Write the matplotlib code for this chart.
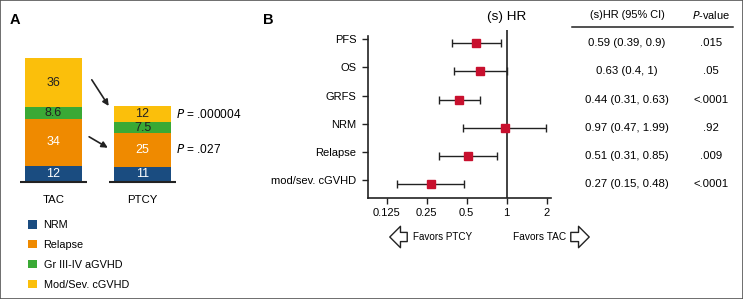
import matplotlib
matplotlib.use("Agg")
import matplotlib.pyplot as plt
import numpy as np
from matplotlib.patches import Patch, Rectangle, FancyArrowPatch
from matplotlib.transforms import blended_transform_factory

plt.rcParams["font.family"] = ["Liberation Sans", "DejaVu Sans"]
plt.rcParams["font.size"] = 7.5

# Panel A: stacked cumulative incidences
groups = ["TAC", "PTCY"]
components = ["NRM", "Relapse", "Gr III-IV aGVHD", "Mod/Sev. cGVHD"]
tac_values = [12, 34, 8.6, 36]
ptcy_values = [11, 25, 7.5, 12]
seg_colors = ["#1a4c80", "#ef8a00", "#3aa935", "#fbbf0b"]
seg_text_colors = ["white", "white", "#222222", "#222222"]
p_labels = [" = .000004", " = .027"]

# Panel B: forest plot
outcomes = ["PFS", "OS", "GRFS", "NRM", "Relapse", "mod/sev. cGVHD"]
hr = [0.59, 0.63, 0.44, 0.97, 0.51, 0.27]
ci_low = [0.39, 0.4, 0.31, 0.47, 0.31, 0.15]
ci_high = [0.9, 1.0, 0.63, 1.99, 0.85, 0.48]
hr_text = ["0.59 (0.39, 0.9)", "0.63 (0.4, 1)", "0.44 (0.31, 0.63)",
           "0.97 (0.47, 1.99)", "0.51 (0.31, 0.85)", "0.27 (0.15, 0.48)"]
p_text = [".015", ".05", "<.0001", ".92", ".009", "<.0001"]
xticks = [0.125, 0.25, 0.5, 1, 2]
xtick_labels = ["0.125", "0.25", "0.5", "1", "2"]

W, H = 743, 299
fig = plt.figure(figsize=(W / 100, H / 100), dpi=100)


def px_axes(x0, y0, x1, y1):
    # pixel box (top-left origin) -> figure axes
    return fig.add_axes([x0 / W, 1 - y1 / H, (x1 - x0) / W, (y1 - y0) / H])


# figure frame
fig.patches.append(Rectangle((0, 0), 1, 1, transform=fig.transFigure,
                             fill=False, ec="#555555", lw=1.2))

# ---------------- Panel A ----------------
axA = px_axes(10, 45, 200, 182)
axA.set_xlim(-0.489, 1.646)
axA.set_ylim(0, 100)
axA.axis("off")
bar_w = 0.64
for xi, vals in enumerate([tac_values, ptcy_values]):
    bottoms = np.concatenate([[0], np.cumsum(vals)[:-1]])
    for v, b, c, tc in zip(vals, bottoms, seg_colors, seg_text_colors):
        axA.bar(xi, v, bottom=b, width=bar_w, color=c, edgecolor="none")
        axA.text(xi, b + v / 2, f"{v:g}", ha="center", va="center",
                 color=tc, fontsize=9)
    axA.hlines(0, xi - 0.38, xi + 0.38, color="#222222", lw=1.5, clip_on=False)
    axA.text(xi, -13, groups[xi], ha="center", va="center", fontsize=8.2,
             clip_on=False)

tac_cum = np.cumsum(tac_values)
ptcy_cum = np.cumsum(ptcy_values)
# arrows between bars
arrow_kw = dict(arrowstyle="-|>", color="#222222", lw=1.2,
                mutation_scale=9, shrinkA=0, shrinkB=0)
axA.annotate("", xy=(0.62, ptcy_cum[-1]),
             xytext=(0.43, tac_cum[2] + tac_values[3] / 2 + 2),
             arrowprops=arrow_kw)
axA.annotate("", xy=(0.61, ptcy_cum[0] + ptcy_values[1] / 2 + 1.5),
             xytext=(0.40, tac_cum[0] + tac_values[1] / 2 + 4),
             arrowprops=arrow_kw)
for lab, yv in zip(p_labels, [ptcy_cum[2] + ptcy_values[3] / 2,
                              ptcy_cum[0] + ptcy_values[1] / 2]):
    axA.text(1.376, yv, "$P$" + lab, ha="left", va="center", fontsize=8.6,
             clip_on=False)

handles = [Patch(facecolor=c, edgecolor="none") for c in seg_colors]
fig.legend(handles, components, loc="upper left",
           bbox_to_anchor=(24 / W, 1 - 216 / H), frameon=False,
           handlelength=0.8, handleheight=0.8, handletextpad=0.6,
           labelspacing=0.9, fontsize=7.8, borderaxespad=0)

fig.text(10 / W, 1 - 20 / H, "A", fontsize=10.5, fontweight="bold",
         va="center", ha="left")

# ---------------- Panel B ----------------
axB = px_axes(367.7, 30, 551, 198)
axB.set_xscale("log", base=2)
axB.set_xlim(2 ** -3.475, 2 ** 1.11)
axB.set_ylim(5.5, -0.47)
y = np.arange(len(outcomes))
err = [np.array(hr) - np.array(ci_low), np.array(ci_high) - np.array(hr)]
axB.errorbar(hr, y, xerr=err, fmt="none", ecolor="#222222", elinewidth=1,
             capsize=3, capthick=1)
axB.plot(hr, y, "s", color="#c8102e", markersize=5.3, zorder=3)
axB.axvline(1, color="#333333", lw=1.3, zorder=1)

axB.set_yticks(y - 0.14)
axB.set_yticklabels(outcomes, fontsize=8)
axB.set_xticks(xticks)
axB.set_xticklabels(xtick_labels, fontsize=8)
axB.minorticks_off()
axB.tick_params(axis="both", length=4, width=1, color="#222222", pad=4)
axB.tick_params(axis="x", pad=3)
for s in ["top", "right"]:
    axB.spines[s].set_visible(False)
for s in ["left", "bottom"]:
    axB.spines[s].set_linewidth(1.2)
    axB.spines[s].set_color("#222222")
axB.spines["left"].set_bounds(5.5, -0.26)

tb = blended_transform_factory(axB.transData, fig.transFigure)
axB.text(1, 1 - 17 / H, "(s) HR", transform=tb, ha="center", va="center",
         fontsize=9.7)

# table
tr = blended_transform_factory(fig.transFigure, axB.transData)
fig.text(627 / W, 1 - 15 / H, "(s)HR (95% CI)", ha="center", va="center",
         fontsize=7.9)
fig.text(711 / W, 1 - 15 / H, "$P$-value", ha="center", va="center",
         fontsize=7.9)
fig.add_artist(plt.Line2D([572 / W, 733 / W], [1 - 26.7 / H, 1 - 26.7 / H],
                          transform=fig.transFigure, color="#222222", lw=1.1))
for yi, t1, t2 in zip(y, hr_text, p_text):
    axB.text(627 / W, yi, t1, transform=tr, ha="center", va="center",
             fontsize=8.2)
    axB.text(711 / W, yi, t2, transform=tr, ha="center", va="center",
             fontsize=8.2)

# favors arrows
fig.text(413 / W, 1 - 237 / H, "Favors PTCY", ha="left", va="center",
         fontsize=7.1)
fig.text(566 / W, 1 - 237 / H, "Favors TAC", ha="right", va="center",
         fontsize=7.3)
arrow_style = "simple,head_length=0.7,head_width=1.4,tail_width=0.6"
fig.add_artist(FancyArrowPatch(
    (410 / W, 1 - 237 / H), (387 / W, 1 - 237 / H), transform=fig.transFigure,
    arrowstyle=arrow_style, mutation_scale=11, fc="white", ec="#222222", lw=1))
fig.add_artist(FancyArrowPatch(
    (568 / W, 1 - 237 / H), (592 / W, 1 - 237 / H), transform=fig.transFigure,
    arrowstyle=arrow_style, mutation_scale=11, fc="white", ec="#222222", lw=1))

fig.text(263 / W, 1 - 20 / H, "B", fontsize=10.5, fontweight="bold",
         va="center", ha="left")

fig.savefig("out.png", dpi=100)
